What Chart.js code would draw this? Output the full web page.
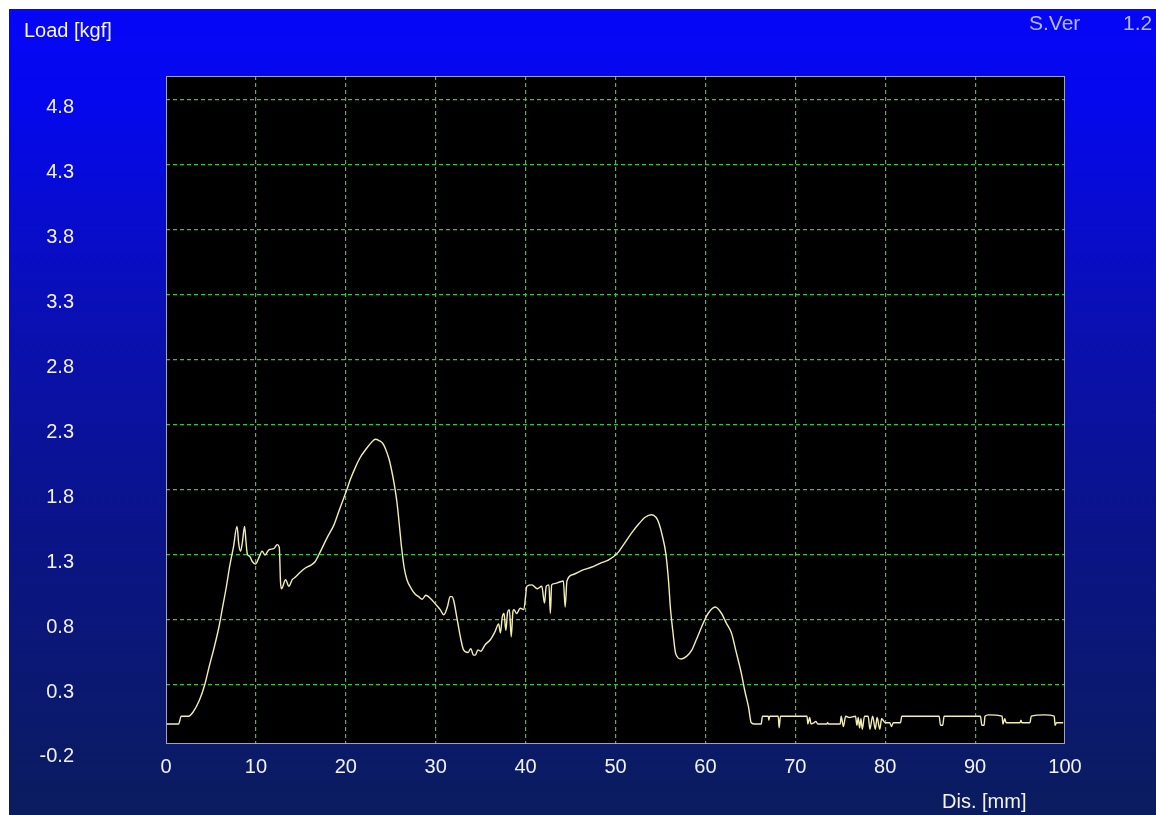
<!DOCTYPE html>
<html>
  <head>
    <title>Load vs Dis.</title>
    <meta charset="utf-8" />
    <style>
      html, body { margin: 0; padding: 0; background: #fff; }
      canvas { display: block; }
    </style>
  </head>

  <body>
    <canvas id="loadChart" width="1156" height="815"></canvas>
    <script src="https://cdn.jsdelivr.net/npm/chart.js@4.4.1/dist/chart.umd.min.js"></script>
    <script>
      // distance [mm]
      const disMm = [
        0, 1.4, 1.7, 2.5, 3.0, 3.7, 4.3, 4.8, 5.4, 5.9, 6.3, 6.7, 7.1, 7.5, 7.9, 8.1, 8.3, 8.5, 8.74, 8.9,
        9.04, 9.3, 9.6, 9.95, 10.33, 10.7, 11.0, 11.44, 12.0, 12.37, 12.6, 12.74, 12.85, 13.3, 13.67, 14.04, 14.4, 14.96, 15.5, 16.07, 16.6, 17.2, 17.9, 18.67,
        19.3, 20.0, 20.5, 21.1, 21.6, 22.2, 22.9, 23.3, 23.7, 24.1, 24.4, 24.8, 25.1, 25.4, 25.7, 26.0, 26.2, 26.5, 26.8, 27.3, 27.7, 28.1, 28.5, 28.9, 29.5, 30.0, 30.5, 30.9, 31.3, 31.6, 31.8,
        32.0, 32.4, 32.8, 33.1, 33.6, 33.9, 34.2, 34.4, 34.7, 35.0, 35.5, 36.1, 36.6, 37.0, 37.2, 37.4, 37.6, 37.8, 38.0, 38.2, 38.4, 38.6, 38.7, 39.0, 39.4, 39.8, 40.15, 40.7, 41.3, 41.8, 42.1, 42.3, 42.6, 42.75, 42.9, 43.2, 43.7, 44.2, 44.4, 44.6, 45.3, 46.2,
        47.5, 48.4, 49.2, 50.3, 51.0, 51.8, 52.6, 53.3, 54.0, 54.5, 54.8, 55.2, 55.6, 55.9, 56.1, 56.4, 56.7, 57.3, 57.9, 58.5, 59.0, 59.6, 60.3, 61.1, 61.8, 62.3, 62.9, 63.4, 64.0, 64.4, 64.8, 65.1,
        65.5, 66.2, 66.35, 67.0, 67.05, 67.15, 68.1, 68.2, 68.35, 71.3, 71.4, 71.6, 71.75, 72.1, 72.3, 72.5, 73.5, 73.6, 73.7, 75.0, 75.1, 75.35, 75.6, 76.0,
        76.7, 76.85, 77.0, 77.15, 77.3, 77.45, 77.7, 78.1, 78.3, 78.6, 78.9, 79.1, 79.4, 79.6, 80.0, 80.5, 80.7, 80.9, 81.7, 81.85,
        86.0, 86.15, 86.4, 86.55, 90.6, 90.75, 91.0, 91.1, 91.5, 93.0, 93.1, 93.3, 93.45, 95.0, 95.1, 95.2, 96.1, 96.25, 97.7, 98.8, 98.9, 99.05, 99.8
      ];

      // load [kgf] at each distance
      const loadKgf = [
        0, 0, 0.06, 0.06, 0.09, 0.18, 0.30, 0.44, 0.60, 0.75, 0.90, 1.05, 1.22, 1.36, 1.52, 1.38, 1.33, 1.40, 1.52, 1.40,
        1.31, 1.29, 1.25, 1.23, 1.28, 1.33, 1.30, 1.34, 1.35, 1.38, 1.36, 1.09, 1.04, 1.11, 1.06, 1.11, 1.13, 1.17, 1.20, 1.22, 1.25, 1.33, 1.43, 1.53,
        1.65, 1.78, 1.88, 1.98, 2.05, 2.11, 2.17, 2.19, 2.18, 2.16, 2.12, 2.04, 1.95, 1.84, 1.70, 1.50, 1.36, 1.20, 1.11, 1.04, 1.00, 0.98, 0.96, 0.99, 0.96, 0.92, 0.88, 0.84, 0.90, 0.98, 0.98,
        0.95, 0.80, 0.65, 0.57, 0.55, 0.58, 0.53, 0.53, 0.57, 0.56, 0.61, 0.65, 0.71, 0.77, 0.70, 0.82, 0.85, 0.72, 0.86, 0.88, 0.67, 0.87, 0.88, 0.85, 0.89, 0.88, 1.06, 1.07, 1.04, 1.06, 0.93, 1.06, 1.07, 0.85, 1.07, 1.08, 1.09, 1.10, 0.90, 1.10, 1.15, 1.18,
        1.21, 1.24, 1.26, 1.32, 1.39, 1.47, 1.54, 1.59, 1.61, 1.59, 1.55, 1.45, 1.31, 1.10, 0.90, 0.70, 0.54, 0.50, 0.52, 0.57, 0.65, 0.75, 0.85, 0.90, 0.85, 0.78, 0.70, 0.56, 0.39, 0.25, 0.13, 0.01,
        0.00, 0.00, 0.06, 0.06, 0.03, 0.06, 0.06, -0.03, 0.06, 0.06, 0.00, 0.05, 0.00, 0.01, 0.02, 0.00, 0.00, 0.01, 0.00, 0.00, 0.06, -0.02, 0.06, 0.05,
        0.06, -0.01, 0.05, -0.03, 0.04, -0.04, 0.06, 0.06, -0.04, 0.06, -0.04, 0.05, -0.04, 0.04, 0.01, 0.01, -0.02, 0.01, 0.01, 0.06,
        0.06, -0.01, -0.01, 0.06, 0.06, -0.01, -0.01, 0.06, 0.07, 0.06, 0.00, 0.04, 0.01, 0.01, 0.03, 0.01, 0.01, 0.06, 0.07, 0.06, -0.01, 0.01, 0.01
      ];

      const xTicks = [0, 10, 20, 30, 40, 50, 60, 70, 80, 90, 100];
      const yTicks = [-0.2, 0.3, 0.8, 1.3, 1.8, 2.3, 2.8, 3.3, 3.8, 4.3, 4.8];

      const FONT = '"Liberation Sans", Arial, sans-serif';
      const gridGreen = "#34c834";

      // blue panel, black plot, frame and free texts
      const panel = {
        id: "panel",
        beforeDraw(chart) {
          const { ctx, width, height, chartArea: a } = chart;
          ctx.save();
          ctx.fillStyle = "#ffffff";
          ctx.fillRect(0, 0, width, height);
          const g = ctx.createLinearGradient(0, 9, 0, height);
          g.addColorStop(0, "#0606f8");
          g.addColorStop(0.12, "#0508ec");
          g.addColorStop(0.4, "#0a10b0");
          g.addColorStop(0.65, "#0a1488");
          g.addColorStop(1, "#0b1c5e");
          ctx.fillStyle = g;
          ctx.fillRect(9, 9, width - 9, height - 9);
          ctx.fillStyle = "#000000";
          ctx.fillRect(a.left, a.top, a.right - a.left, a.bottom - a.top);
          ctx.restore();
        },
        afterDraw(chart) {
          const { ctx, chartArea: a } = chart;
          ctx.save();
          ctx.strokeStyle = "rgba(175,180,225,0.9)";
          ctx.lineWidth = 1;
          ctx.strokeRect(a.left + 0.5, a.top + 0.5, a.right - a.left - 1, a.bottom - a.top - 1);
          ctx.textBaseline = "alphabetic";
          ctx.fillStyle = "#f4f4f4";
          ctx.font = "20px " + FONT;
          ctx.fillText("Load [kgf]", 24, 37);
          ctx.fillText("Dis. [mm]", 942, 808);
          ctx.fillStyle = "#b4baff";
          ctx.font = "21px " + FONT;
          ctx.fillText("S.Ver", 1029, 30);
          ctx.fillText("1.2", 1123, 30);
          ctx.restore();
        }
      };

      const ctx = document.getElementById("loadChart").getContext("2d");
      const loadChart = new Chart(ctx, {
        type: "line",
        data: {
          datasets: [
            {
              label: "Load",
              data: disMm.map((d, i) => ({ x: d, y: loadKgf[i] })),
              borderColor: "#f2efb0",
              borderWidth: 1.4,
              pointRadius: 0,
              fill: false,
              cubicInterpolationMode: "monotone"
            }
          ]
        },
        options: {
          responsive: false,
          animation: false,
          layout: { padding: { top: 76, right: 91, left: 0, bottom: 0 } },
          plugins: {
            legend: { display: false },
            tooltip: { enabled: false }
          },
          scales: {
            x: {
              type: "linear",
              min: 0,
              max: 100,
              afterBuildTicks: (s) => { s.ticks = xTicks.map((v) => ({ value: v })); },
              afterFit: (s) => {
                s.height = 71;
                s.paddingLeft = 0;
                s.paddingRight = 0;
              },
              grid: {
                drawTicks: false,
                lineWidth: 1.2,
                color: (c) => (c.tick && (c.tick.value === 0 || c.tick.value === 100) ? "rgba(0,0,0,0)" : gridGreen)
              },
              border: { display: false, dash: [4, 3] },
              ticks: {
                color: "#f2f2f2",
                padding: 11,
                autoSkip: false,
                maxRotation: 0,
                font: { family: FONT, size: 20 },
                callback: (v) => String(v)
              }
            },
            y: {
              type: "linear",
              min: -0.154,
              max: 4.985,
              afterBuildTicks: (s) => { s.ticks = yTicks.map((v) => ({ value: v })); },
              afterFit: (s) => {
                s.width = 166;
                s.paddingTop = 0;
                s.paddingBottom = 0;
              },
              grid: {
                drawTicks: false,
                lineWidth: 1.2,
                color: (c) => (c.tick && c.tick.value < -0.1 ? "rgba(0,0,0,0)" : gridGreen)
              },
              border: { display: false, dash: [4, 3] },
              ticks: {
                color: "#f2f2f2",
                padding: 92,
                labelOffset: 7,
                autoSkip: false,
                font: { family: FONT, size: 20 },
                callback: (v) => Number(v).toFixed(1)
              }
            }
          }
        },
        plugins: [panel]
      });
    </script>
  </body>
</html>
